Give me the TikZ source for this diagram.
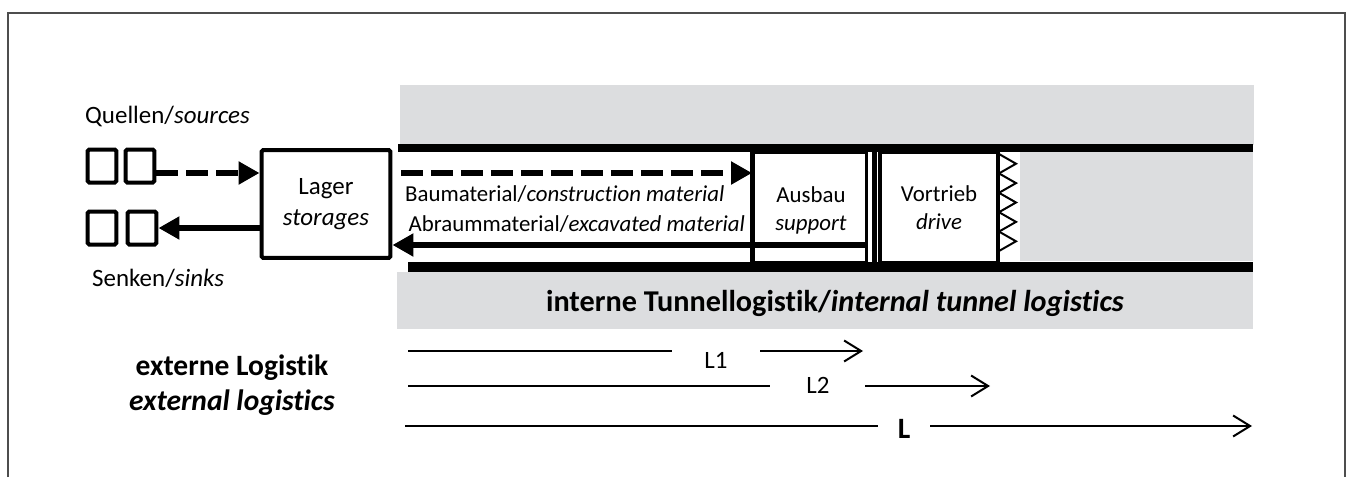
\documentclass[tikz,border=0pt]{standalone}
\usepackage{fontspec}
\setmainfont[Ligatures=NoCommon]{Carlito}
\usetikzlibrary{arrows.meta,calc}
\definecolor{rock}{HTML}{DCDDDF}
\definecolor{framegray}{HTML}{4D4D4D}

\begin{document}
\begin{tikzpicture}[x=0.02cm, y=-0.02cm,
  box/.style={rectangle, draw, line width=0.06cm, fill=white, inner sep=0pt,
              align=center, font=\fontsize{13}{16}\selectfont},
  bin/.style={rectangle, draw, line width=0.08cm, rounded corners=1pt,
              minimum width=0.58cm, minimum height=0.66cm, inner sep=0pt},
  flow/.style={line width=0.12cm, -{Triangle[length=0.42cm, width=0.44cm]}},
  feed/.style={flow, dash pattern=on 0.44cm off 0.16cm},
  wall/.style={line width=0.16cm},
  dim/.style={line width=0.04cm, -{Straight Barb[length=0.34cm, width=0.42cm]}},
  label/.style={font=\fontsize{13}{16}\selectfont, align=center},
  biglabel/.style={font=\fontsize{14.2}{17.5}\selectfont, align=center},
  title/.style={font=\fontsize{16.8}{20}\selectfont\bfseries, align=center},
]
  \useasboundingbox (0,0) rectangle (1346,477);
  \draw[framegray, line width=0.05cm] (8,477) -- (8,13) -- (1345,13) -- (1345,477);

  % rock around the tunnel
  \fill[rock] (400,85)  rectangle (1254,145);
  \fill[rock] (397,272) rectangle (1253,329);
  \fill[rock] (1020,152) rectangle (1253,261);

  % sources and sinks
  \node[bin] (src1) at (102,166) {};
  \node[bin] (src2) at (140,166) {};
  \node[bin] (snk1) at (102,228) {};
  \node[bin] (snk2) at (142,228) {};
  \node[biglabel, anchor=west] (quellen) at (79,116) {Quellen/\textit{sources}};
  \node[biglabel, anchor=west] (senken)  at (86,278) {Senken/\textit{sinks}};

  \node[box, biglabel, line width=0.08cm, rounded corners=1pt, minimum width=2.58cm, minimum height=2.16cm]
    (lager) at (326,204) {Lager\\\textit{storages}};

  % tunnel: support and drive
  \node[box, minimum width=2.26cm, minimum height=2.22cm] (ausbau) at (810,207.5) {};
  \draw[line width=0.08cm] (ausbau.north west) -- (ausbau.south west);
  \node[label] (ausbaulbl) at (811,210) {Ausbau\\\textit{support}};
  \fill (872,152) rectangle (877,263);
  \node[box, line width=0.08cm, minimum width=2.38cm, minimum height=2.22cm]
    (vortrieb) at (939,207.5) {Vortrieb\\\textit{drive}};
  \foreach \y in {154,173.4,192.8,212.2,231.6}
    \draw[line width=0.04cm, line join=miter] (999,\y) -- (1016,\y+9.7) -- (999,\y+19.4);

  \draw[wall] (398,148) -- (1253,148);
  \draw[wall, line width=0.2cm] (408,267) -- (1253,267);

  % material flows
  \coordinate (quelle) at ($(src2.east)+(0,7)$);
  \coordinate (bau) at (401,173);
  \coordinate (abraum) at (867,245);
  \draw[feed] (quelle) -- (quelle -| lager.west);
  \draw[flow] (lager.west |- snk2.east) -- (snk2.east);
  \draw[feed] (bau) -- (bau -| ausbau.west);
  \draw[flow] (abraum) -- (abraum -| lager.east);
  \node[label, anchor=west] (baulbl) at (399,194) {Baumaterial/\textit{construction material}};
  \node[label, anchor=east] (abrlbl) at (751,224) {Abraummaterial/\textit{excavated material}};

  \node[title, font=\fontsize{17.2}{20}\selectfont\bfseries] (intern) at (835,303)
    {interne Tunnellogistik/\textit{internal tunnel logistics}};
  \node[title] (extern) at (232,385) {externe Logistik\\\textit{external logistics}};

  % lengths
  \node[biglabel] (l1) at (716,360) {L1};
  \node[biglabel] (l2) at (818,385) {L2};
  \node[title] (l)  at (904,429) {L};
  \coordinate (l1s) at (408,351);
  \coordinate (l1e) at (863,351);
  \coordinate (l2s) at (408,386);
  \coordinate (l2e) at (990,386);
  \coordinate (ls)  at (405,426);
  \coordinate (le)  at (1252,426);
  \draw[line width=0.04cm] (l1s) -- (672,351);
  \draw[dim] (760,351) -- (l1e);
  \draw[line width=0.04cm] (l2s) -- (770,386);
  \draw[dim] (865,386) -- (l2e);
  \draw[line width=0.04cm] (ls) -- (878,426);
  \draw[dim] (930,426) -- (le);
\end{tikzpicture}
\end{document}
